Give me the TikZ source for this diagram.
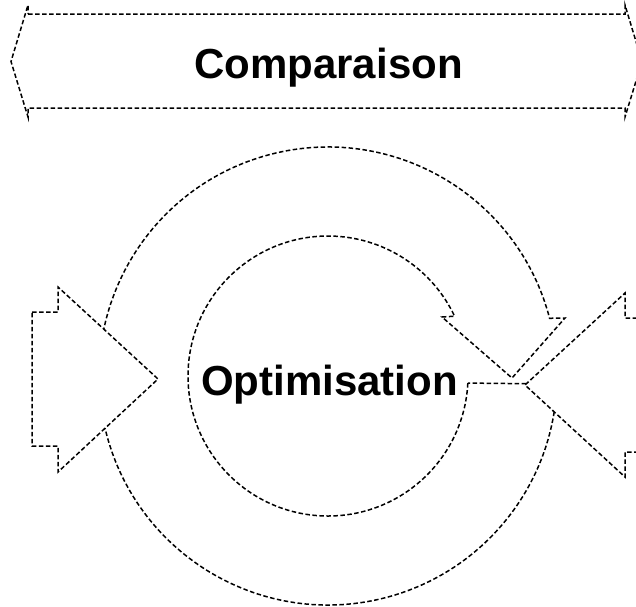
\documentclass[tikz,border=0pt]{standalone}
\usepackage{fontspec}
\setmainfont{Liberation Sans}
\usetikzlibrary{calc}
\tikzset{
  dline/.style={draw=black, line width=1.5pt, dash pattern=on 4.5pt off 2.5pt, line join=miter},
  wfill/.style={dline, fill=white},
  label/.style={font=\fontsize{42}{50}\selectfont\bfseries, inner sep=0pt, anchor=base}
}
\begin{document}
\begin{tikzpicture}[x=1pt, y=-1pt]
\useasboundingbox (0,0) rectangle (636,606);
\clip (0,0) rectangle (636,606);
\coordinate (C) at (328,376);
% top double arrow band
\draw[dline] (28,14) -- (625,14) -- (625,5) -- (642,61.5) -- (625,117) -- (625,108)
  -- (28,108) -- (28,117) -- (11,61.5) -- (28,5) -- cycle;
\node[label] (comp) at (328.5,78) {Comparaison};
% ring arrow
\draw[dline] ($(C)+(2.9:140)$) arc[start angle=2.9, end angle=334.7, radius=140]
  -- (442,317) -- (512,378) -- (565,318) -- ($(C)+(345.4:229)$)
  arc[start angle=345.4, end angle=2, radius=229] -- cycle;
% left block arrow
\draw[wfill] (32,312) -- (58,312) -- (58,287) -- (158,379) -- (58,472) -- (58,446) -- (32,446) -- cycle;
% right block arrow
\draw[wfill] (651,318) -- (625,318) -- (625,293) -- (525,385) -- (625,477) -- (625,452) -- (651,452) -- cycle;
\node[label] (opt) at (329.5,395) {Optimisation};
\end{tikzpicture}
\end{document}
